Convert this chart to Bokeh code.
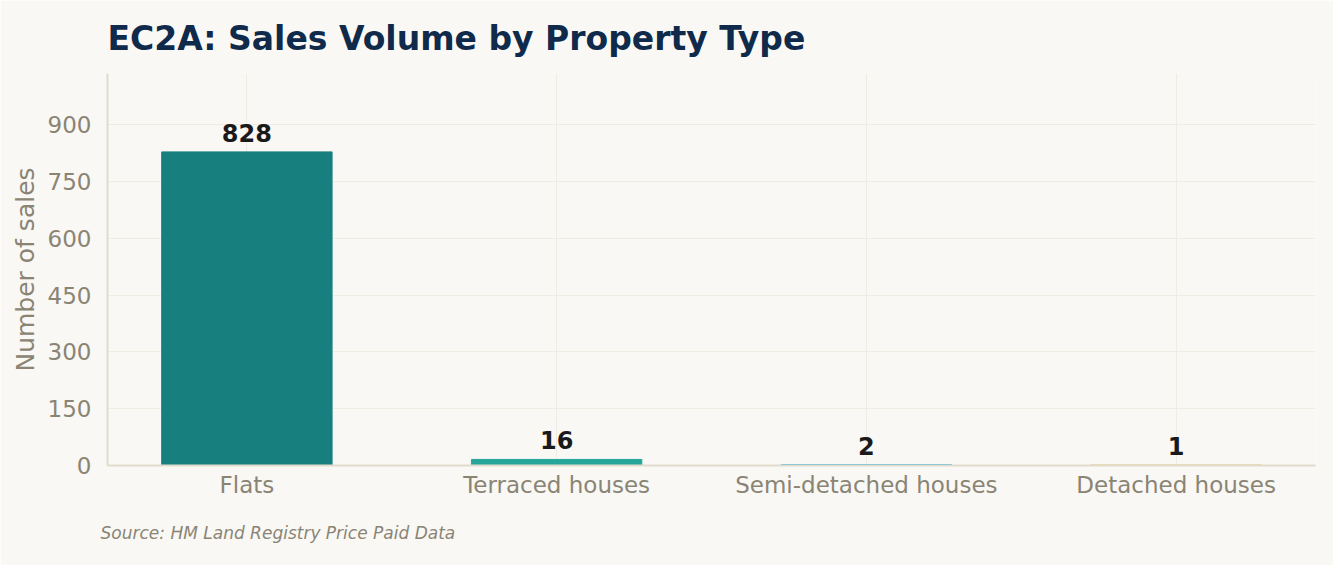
from bokeh.plotting import figure
from bokeh.models import ColumnDataSource, Range1d, Title, SingleIntervalTicker, FixedTicker
from bokeh.core.properties import value
from bokeh.embed import file_html
from bokeh.resources import INLINE

categories = ["Flats", "Terraced houses", "Semi-detached houses", "Detached houses"]
sales = [828, 16, 2, 1]
colors = ["#177f7e", "#26a69a", "#1fa3e0", "#e6a028"]

bg = "#f9f8f4"
muted = "#8a8474"
font = "DejaVu Sans"

xpos = list(range(len(categories)))
source = ColumnDataSource(data=dict(x=xpos, sales=sales, color=colors,
                                    label=[str(v) for v in sales]))

p = figure(width=1333, height=565,
           output_backend="svg", toolbar_location=None,
           background_fill_color=bg, border_fill_color=bg,
           min_border_left=107, min_border_right=18, min_border_top=72,
           min_border_bottom=100, outline_line_color=None)
p.x_range = Range1d(-0.45, len(categories) - 0.55)
p.y_range = Range1d(0, max(sales) * 1.25)

p.title.text = "EC2A: Sales Volume by Property Type"
p.title.text_font = font
p.title.text_font_size = "33px"
p.title.text_font_style = "bold"
p.title.text_color = "#0f2a4a"
p.title.standoff = 32

p.vbar(x="x", top="sales", width=0.55, color="color", source=source)
p.text(x="x", y="sales", text="label", source=source,
       text_align="center", text_baseline="bottom", y_offset=-10,
       text_font=value(font), text_font_size="24px", text_font_style="bold",
       text_color="#1a1a1a")

p.xaxis.ticker = FixedTicker(ticks=xpos)
p.xaxis.major_label_overrides = {i: c for i, c in zip(xpos, categories)}
p.yaxis.ticker = SingleIntervalTicker(interval=150)
p.yaxis.axis_label = "Number of sales"
p.yaxis.axis_label_text_font = font
p.yaxis.axis_label_text_font_style = "normal"
p.yaxis.axis_label_text_font_size = "25px"
p.yaxis.axis_label_text_color = muted
for ax in (p.xaxis, p.yaxis):
    ax.major_label_text_font = font
    ax.major_label_text_font_size = "23px"
    ax.major_label_text_color = muted
    ax.axis_line_color = "#e0dccd"
    ax.axis_line_width = 2
    ax.major_tick_line_color = None
    ax.minor_tick_line_color = None
p.xaxis.major_label_standoff = 0
p.yaxis.major_label_standoff = 10

p.xgrid.grid_line_color = "#efece4"
p.ygrid.grid_line_color = "#efece4"

src = Title(text="Source: HM Land Registry Price Paid Data", text_font=font,
            text_font_style="italic", text_font_size="17px", text_color=muted,
            offset=-7, standoff=40)
p.add_layout(src, "below")

open("out.html", "w").write(file_html(p, INLINE))
